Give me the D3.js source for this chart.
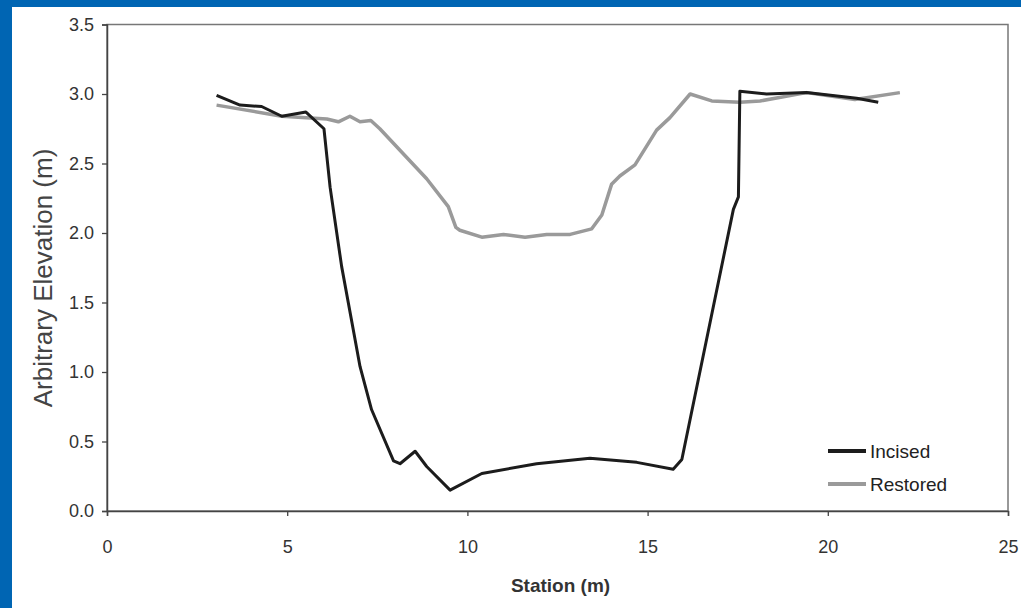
<!DOCTYPE html>
<html>
<head>
<meta charset="utf-8">
<script src="https://cdn.jsdelivr.net/npm/d3@7"></script>
<style>
  html, body { margin: 0; padding: 0; background: #fff; }
  svg { display: block; font-family: "Liberation Sans", Arial, sans-serif; }
</style>
</head>
<body>
<div id="chart"></div>
<script>
// Cross-section profiles
const incisedStation = [3.04, 3.69, 4.29, 4.85, 5.52, 6.02, 6.19, 6.51, 6.85, 7.02, 7.34, 7.95, 8.13, 8.55, 8.87, 9.52, 10.40, 11.92, 13.40, 14.70, 15.71, 15.95, 17.38, 17.52, 17.56, 18.30, 19.41, 20.80, 21.40];
const incisedElev    = [2.99, 2.92, 2.91, 2.84, 2.87, 2.75, 2.33, 1.76, 1.28, 1.04, 0.73, 0.36, 0.34, 0.43, 0.32, 0.15, 0.27, 0.34, 0.38, 0.35, 0.30, 0.37, 2.17, 2.26, 3.02, 3.00, 3.01, 2.97, 2.94];

const restoredStation = [3.04, 4.85, 6.10, 6.42, 6.74, 7.02, 7.32, 7.57, 8.87, 9.47, 9.68, 9.79, 10.40, 11.00, 11.60, 12.20, 12.85, 13.45, 13.73, 14.00, 14.23, 14.65, 15.25, 15.62, 16.18, 16.78, 17.56, 18.12, 19.41, 20.75, 22.00];
const restoredElev    = [2.92, 2.84, 2.82, 2.80, 2.84, 2.80, 2.81, 2.75, 2.39, 2.19, 2.04, 2.02, 1.97, 1.99, 1.97, 1.99, 1.99, 2.03, 2.13, 2.35, 2.41, 2.49, 2.74, 2.83, 3.00, 2.95, 2.94, 2.95, 3.01, 2.96, 3.01];

const xTicks = [0, 5, 10, 15, 20, 25];
const yTicks = [0, 0.5, 1.0, 1.5, 2.0, 2.5, 3.0, 3.5];
const seriesNames = ["Incised", "Restored"];

const W = 1021, H = 608;
const margin = { top: 24.5, right: 13, bottom: 97, left: 107 };
const w = W - margin.left - margin.right;
const h = H - margin.top - margin.bottom;

const svg = d3.select("#chart").append("svg")
  .attr("width", W).attr("height", H);

// blue slide frame
svg.append("rect").attr("x", 0).attr("y", 0).attr("width", W).attr("height", 7).attr("fill", "#0065B3");
svg.append("rect").attr("x", 0).attr("y", 0).attr("width", 12).attr("height", H).attr("fill", "#0065B3");

const g = svg.append("g").attr("transform", `translate(${margin.left},${margin.top})`);

const x = d3.scaleLinear().domain([0, 25]).range([0, w]);
const y = d3.scaleLinear().domain([0, 3.5]).range([h, 0]);

// plot frame
g.append("rect")
  .attr("x", 0).attr("y", 0).attr("width", w).attr("height", h)
  .attr("fill", "none").attr("stroke", "#777").attr("stroke-width", 1.5);

// axes
g.append("g")
  .call(d3.axisLeft(y).tickValues(yTicks).tickSize(5).tickPadding(8).tickFormat(d3.format(".1f")))
  .call(a => a.select(".domain").attr("stroke", "#444").attr("stroke-width", 1.5))
  .call(a => a.selectAll("line").attr("stroke", "#444").attr("stroke-width", 1.3))
  .call(a => a.selectAll("text").attr("font-size", 18).attr("fill", "#333").attr("font-family", null));

g.append("g").attr("transform", `translate(0,${h})`)
  .call(d3.axisBottom(x).tickValues(xTicks).tickSize(5).tickPadding(24).tickFormat(d3.format("d")))
  .call(a => a.select(".domain").attr("stroke", "#444").attr("stroke-width", 1.5))
  .call(a => a.selectAll("line").attr("stroke", "#444").attr("stroke-width", 1.3))
  .call(a => a.selectAll("text").attr("font-size", 18).attr("fill", "#333").attr("font-family", null));

// axis titles
svg.append("text")
  .attr("transform", `translate(52,278) rotate(-90)`)
  .attr("text-anchor", "middle")
  .attr("font-size", 26).attr("fill", "#444")
  .text("Arbitrary Elevation (m)");

svg.append("text")
  .attr("x", margin.left + w / 2 + 3).attr("y", 592)
  .attr("text-anchor", "middle")
  .attr("font-size", 19).attr("font-weight", "bold").attr("fill", "#333")
  .text("Station (m)");

// lines
const line = d3.line().x(d => x(d[0])).y(d => y(d[1]));
const restored = d3.zip(restoredStation, restoredElev);
const incised = d3.zip(incisedStation, incisedElev);

g.append("path").datum(restored)
  .attr("fill", "none").attr("stroke", "#9a9a9a").attr("stroke-width", 3.5)
  .attr("stroke-linejoin", "round").attr("d", line);

g.append("path").datum(incised)
  .attr("fill", "none").attr("stroke", "#1c1c1c").attr("stroke-width", 3)
  .attr("stroke-linejoin", "round").attr("d", line);

// legend
const colors = ["#1c1c1c", "#9a9a9a"];
const leg = svg.append("g").attr("transform", "translate(828,451)");
seriesNames.forEach((name, i) => {
  const row = leg.append("g").attr("transform", `translate(0,${i * 33})`);
  row.append("line").attr("x1", 0).attr("x2", 38).attr("y1", 0).attr("y2", 0)
    .attr("stroke", colors[i]).attr("stroke-width", 4);
  row.append("text").attr("x", 42).attr("y", 0).attr("dy", "0.35em")
    .attr("font-size", 19).attr("fill", "#222").text(name);
});
</script>
</body>
</html>
